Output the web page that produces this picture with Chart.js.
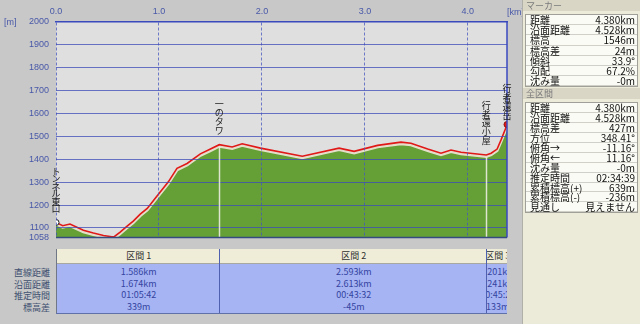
<!DOCTYPE html>
<html lang="ja">
<head>
<meta charset="utf-8">
<script src="https://cdn.jsdelivr.net/npm/chart.js@4.4.1/dist/chart.umd.min.js"></script>
<style>
	body { margin:0; width:640px; height:324px; overflow:hidden; background:#c8c8c8; position:relative; font-family:"Noto Sans CJK JP", sans-serif; }
	#chartbox { position:absolute; left:0; top:0; width:520px; height:250px; }
	.unit { position:absolute; color:#4858a8; font:9px "Liberation Sans", sans-serif; }
	#sections { position:absolute; top:249px; height:64px; background:#a6b4f4; border-bottom:1px solid #6070a8; overflow:hidden; }
	#sections .col { position:absolute; top:0; height:64px; overflow:hidden; border-left:1px solid #5060b0; box-sizing:border-box; }
	#sections .head { height:14px; line-height:14px; background:#efedd8; border-bottom:1px solid #a8a8a0; color:#303030; font-size:9px; display:flex; justify-content:center; white-space:nowrap; }
	#sections .val { height:11.5px; line-height:11.5px; color:#3444a0; font-size:9px; display:flex; justify-content:center; white-space:nowrap; }
	.rowlabel { position:absolute; right:590px; color:#405070; font-size:9px; line-height:11.5px; white-space:nowrap; }
	#panel { position:absolute; left:522px; top:0; width:118px; height:324px; background:#ecead9; border-left:1px solid #b0b0a8; }
	.phead { position:absolute; left:0; width:118px; height:11px; line-height:11px; background:#d9d6c6; color:#7a7a7a; font-size:9px; padding-left:3px; box-sizing:border-box; }
	.pbox { position:absolute; left:2px; width:111px; background:#fbfbf6; border:1px solid #a0a098; }
	.prow { position:relative; border-bottom:1px solid #d0d0c8; font-size:10px; color:#101010; white-space:nowrap; box-sizing:border-box; }
	.prow span { position:absolute; right:2px; top:0; }
	.prow b { font-weight:normal; padding-left:4px; }
</style>
</head>
<body>
<div id="chartbox"><canvas id="profile" width="520" height="250"></canvas></div>
<div class="unit" style="left:4px;top:17px;">[m]</div>
<div class="unit" style="left:507px;top:7px;">[km]</div>
<div id="sections"></div>
<div id="panel"></div>
<script>
//profile data (distance in km, elevation in m)
var distKm = [0, 0.065, 0.136, 0.266, 0.363, 0.461, 0.542, 0.562, 0.623, 0.682,
	0.750, 0.818, 0.886, 0.983, 1.091, 1.175, 1.273, 1.402, 1.500, 1.586,
	1.711, 1.808, 1.986, 2.392, 2.749, 2.895, 3.123, 3.350, 3.447, 3.610,
	3.739, 3.836, 3.934, 4.179, 4.226, 4.284, 4.323, 4.372, 4.380];
var elevM = [1124, 1110, 1117, 1090, 1078, 1067, 1062, 1061, 1082, 1105,
	1130, 1160, 1185, 1240, 1301, 1360, 1381, 1423, 1444, 1463,
	1453, 1467, 1448, 1413, 1448, 1434, 1460, 1474, 1469, 1444,
	1426, 1440, 1430, 1418, 1426, 1444, 1485, 1540, 1551];

//axis ticks
var xTicks = [0, 1, 2, 3, 4];
var yTicks = [1058, 1100, 1200, 1300, 1400, 1500, 1600, 1700, 1800, 1900, 2000];
var xMax = 4.38, yMin = 1058, yMax = 2000;

//waypoints
var pointNames = ["トンネル東口", "一のタワ", "行者還小屋", "行者還岳"];
var pointKm = [0, 1.586, 4.179, 4.380];

//sections
var rowLabels = ["直線距離", "沿面距離", "推定時間", "標高差"];
var sectionNames = ["区間 1", "区間 2", "区間 3"];
var sectionEndKm = [1.586, 4.179, 4.380];
var sectionStraight = ["1.586km", "2.593km", "0.201km"];
var sectionSurface = ["1.674km", "2.613km", "0.241km"];
var sectionTime = ["01:05:42", "00:43:32", "00:45:25"];
var sectionElev = ["339m", "-45m", "133m"];

//side panel
var markerLabels = ["距離", "沿面距離", "標高", "標高差", "傾斜", "勾配", "沈み量"];
var markerValues = ["4.380km", "4.528km", "1546m", "24m", "33.9°", "67.2%", "-0m"];
var totalLabels = ["距離", "沿面距離", "標高差", "方位", "俯角→", "俯角←", "沈み量", "推定時間", "累積標高(+)", "累積標高(-)", "見通し"];
var totalValues = ["4.380km", "4.528km", "427m", "348.41°", "-11.16°", "11.16°", "-0m", "02:34:39", "639m", "-236m", "見えません"];

var profile = distKm.map( function( d, i ){ return { x: d, y: elevM[i] }; } );
var lastIdx = profile.length - 1;

//extra drawing: plot background, halo shift, section lines, waypoint names, borders
var profileExtras = {
	id: "profileExtras",
	beforeDraw: function( chart ){
		var a = chart.chartArea, ctx = chart.ctx;
		ctx.save();
		ctx.fillStyle = "#dfdfdf";
		ctx.fillRect( a.left, a.top, a.right - a.left, a.bottom - a.top );
		ctx.restore();
	},
	beforeDatasetDraw: function( chart, args ){
		if( args.index !== 0 ) return;
		var a = chart.chartArea, ctx = chart.ctx;
		ctx.save();
		ctx.beginPath();
		ctx.rect( a.left, a.top, a.right - a.left, a.bottom - a.top );
		ctx.clip();
		ctx.translate( 0, 1.5 );
	},
	afterDatasetDraw: function( chart, args ){
		if( args.index === 0 ) chart.ctx.restore();
	},
	afterDraw: function( chart ){
		var a = chart.chartArea, ctx = chart.ctx;
		var xs = chart.scales.x, ys = chart.scales.y;
		ctx.save();
		//section boundaries
		ctx.strokeStyle = "rgba(235,235,225,0.9)";
		ctx.lineWidth = 1.5;
		for( var i = 0; i < sectionEndKm.length - 1; i++ ){
			var j = distKm.indexOf( sectionEndKm[i] );
			var px = Math.round( xs.getPixelForValue( sectionEndKm[i] ) ) + 0.5;
			ctx.beginPath();
			ctx.moveTo( px, ys.getPixelForValue( elevM[j] ) + 2 );
			ctx.lineTo( px, a.bottom );
			ctx.stroke();
		}
		//right and bottom border
		ctx.strokeStyle = "#3848c0";
		ctx.lineWidth = 1.5;
		ctx.beginPath();
		ctx.moveTo( a.right, a.top );
		ctx.lineTo( a.right, a.bottom );
		ctx.stroke();
		ctx.strokeStyle = "#354a80";
		ctx.beginPath();
		ctx.moveTo( a.left, a.bottom );
		ctx.lineTo( a.right, a.bottom );
		ctx.stroke();
		//waypoint names, vertical text
		ctx.fillStyle = "#202020";
		ctx.font = "9px 'Noto Sans CJK JP'";
		ctx.textAlign = "center";
		ctx.textBaseline = "middle";
		for( var k = 0; k < pointNames.length; k++ ){
			var idx = distKm.indexOf( pointKm[k] );
			var lx = xs.getPixelForValue( pointKm[k] );
			var bottom = ys.getPixelForValue( elevM[idx] ) - ( k == 3 ? 5 : 10 );
			var chars = Array.from( pointNames[k] );
			var step = k == 0 ? 7.5 : 8.8;
			for( var c = 0; c < chars.length; c++ ){
				ctx.fillText( chars[c], lx, bottom - step / 2 - ( chars.length - 1 - c ) * step );
			}
		}
		ctx.restore();
	}
};

var chart = new Chart( document.getElementById("profile").getContext("2d"), {
	type: "line",
	data: {
		datasets: [{
			data: profile,
			fill: "start",
			backgroundColor: "#64a036",
			borderColor: "rgba(250,232,228,0.85)",
			borderWidth: 3,
			pointRadius: 0,
			tension: 0,
			order: 2
		},{
			data: profile,
			fill: false,
			borderColor: "#e01818",
			borderWidth: 1.6,
			tension: 0,
			pointRadius: function( c ){ return ( c.dataIndex === 0 || c.dataIndex === lastIdx ) ? 3 : 0; },
			pointBackgroundColor: function( c ){ return c.dataIndex === 0 ? "#ffffff" : "#e01818"; },
			pointBorderColor: function( c ){ return c.dataIndex === 0 ? "#202020" : "#901010"; },
			pointBorderWidth: 1,
			order: 1
		}]
	},
	options: {
		responsive: false,
		animation: false,
		layout: { padding: { left: 0, right: 13, top: 0, bottom: 2.5 } },
		plugins: { legend: { display: false }, tooltip: { enabled: false } },
		scales: {
			x: {
				type: "linear",
				position: "top",
				min: 0,
				max: xMax,
				afterBuildTicks: function( s ){ s.ticks = xTicks.map( function( v ){ return { value: v }; } ); },
				afterFit: function( s ){ s.height = 21.5; },
				grid: { color: "rgba(70,85,190,0.75)", lineWidth: 1, drawTicks: false, z: 1 },
				border: { display: true, color: "#3848c0", width: 1.5, dash: [3, 2], z: 1 },
				ticks: {
					color: "#4858a8",
					font: { size: 9, family: "Liberation Sans" },
					padding: 5,
					maxRotation: 0,
					autoSkip: false,
					callback: function( v ){ return v.toFixed(1); }
				}
			},
			y: {
				min: yMin,
				max: yMax,
				afterBuildTicks: function( s ){ s.ticks = yTicks.map( function( v ){ return { value: v }; } ); },
				afterFit: function( s ){ s.width = 56; },
				grid: { color: "rgba(60,75,185,0.75)", lineWidth: 1, drawTicks: false, z: 1 },
				border: { display: false },
				ticks: {
					color: "#4858a8",
					font: { size: 9, family: "Liberation Sans" },
					padding: 7,
					autoSkip: false,
					callback: function( v ){ return String( v ); }
				}
			}
		}
	},
	plugins: [ profileExtras ]
});

//section table under the profile, columns placed by the x scale
var area = chart.chartArea, xs = chart.scales.x;
var table = document.getElementById("sections");
table.style.left = area.left + "px";
table.style.width = ( area.right - area.left ) + "px";
var start = 0;
for( var i = 0; i < sectionNames.length; i++ ){
	var left = xs.getPixelForValue( start ), right = xs.getPixelForValue( sectionEndKm[i] );
	var col = document.createElement("DIV");
	col.className = "col";
	col.style.left = ( left - area.left ) + "px";
	col.style.width = ( right - left + 1 ) + "px";
	if( i == 0 ) col.style.borderLeft = "1px solid #707888";
	var head = document.createElement("DIV");
	head.className = "head";
	head.innerHTML = "<span></span>";
	head.firstChild.textContent = sectionNames[i];
	col.append( head );
	var vals = [ sectionStraight[i], sectionSurface[i], sectionTime[i], sectionElev[i] ];
	for( var r = 0; r < vals.length; r++ ){
		var v = document.createElement("DIV");
		v.className = "val";
		if( r == 0 ) v.style.marginTop = "2px";
		v.innerHTML = "<span></span>";
		v.firstChild.textContent = vals[r];
		col.append( v );
	}
	table.append( col );
	start = sectionEndKm[i];
}
for( var r = 0; r < rowLabels.length; r++ ){
	var lab = document.createElement("DIV");
	lab.className = "rowlabel";
	lab.style.top = ( 267 + r * 11.5 ) + "px";
	lab.textContent = rowLabels[r];
	document.body.append( lab );
}

//side panel boxes
var panel = document.getElementById("panel");
addBox = function( title, top, boxTop, rowH, labels, values ){
	var h = document.createElement("DIV");
	h.className = "phead";
	h.style.top = top + "px";
	h.textContent = title;
	panel.append( h );
	var box = document.createElement("DIV");
	box.className = "pbox";
	box.style.top = boxTop + "px";
	for( var i = 0; i < labels.length; i++ ){
		var row = document.createElement("DIV");
		row.className = "prow";
		row.style.height = rowH + "px";
		row.style.lineHeight = rowH + "px";
		row.innerHTML = "<b></b><span></span>";
		row.firstChild.textContent = labels[i];
		row.lastChild.textContent = values[i];
		box.append( row );
	}
	panel.append( box );
};
addBox( "マーカー", 0, 14, 10.2, markerLabels, markerValues );
addBox( "全区間", 88, 102, 9.95, totalLabels, totalValues );
</script>
</body>
</html>
